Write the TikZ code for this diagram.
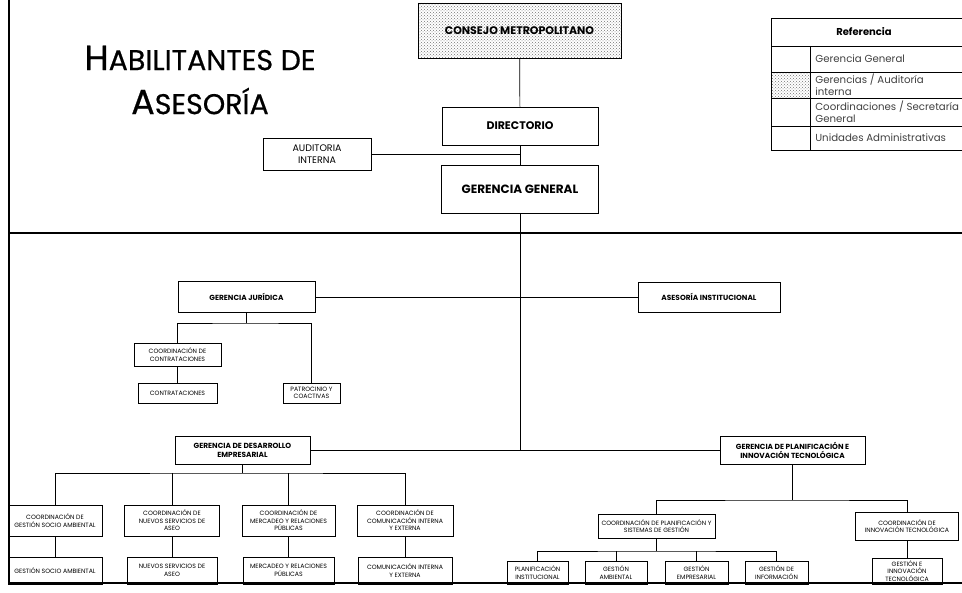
\documentclass[tikz,border=0pt]{standalone}
\usepackage{fontspec}
\setmainfont{Poppins}
\newfontfamily\titlefont[FakeBold=0.6]{Poppins}
\usetikzlibrary{positioning,patterns}

\begin{document}
\begin{tikzpicture}[x=1pt, y=-1pt,
        every node/.style={draw, align=center, inner sep=1pt, line width=0.7pt},
        txt/.style={draw=none, inner sep=0pt},
        topbox/.style={font=\bfseries\fontsize{11}{13}\selectfont},
        gbox/.style={font=\bfseries\fontsize{7.4}{9}\selectfont},
        cbox/.style={font=\fontsize{6.2}{7.6}\selectfont},
        legtext/.style={txt, anchor=west, align=left, font=\fontsize{10.2}{12}\selectfont, text=black!75},
        dotted fill/.style={pattern=crosshatch dots, pattern color=black!55},
        sz/.style 2 args={minimum width=#1pt, minimum height=#2pt},
        link/.style={line width=0.7pt},
        frame/.style={line width=1.2pt}]

  \useasboundingbox (0,0) rectangle (962,593);
  \clip (0,0) rectangle (962,593);

  \draw[frame] (9,0) -- (9,583);
  \draw[frame] (9,233) -- (962,233);
  \draw[frame] (9,583) -- (962,583);

  \node[txt, font=\titlefont\fontsize{35}{40}\selectfont] (title1) at (200,58) {H{\fontsize{28.5}{40}\selectfont ABILITANTES DE}};
  \node[txt, font=\titlefont\fontsize{35}{40}\selectfont] (title2) at (200,101) {A{\fontsize{28.5}{40}\selectfont SESORÍA}};

  \node[topbox, dotted fill, sz={203}{55}] (consejo) at (519.5,30.5) {CONSEJO METROPOLITANO};
  \node[topbox, sz={156}{38}] (directorio) at (520,126) {DIRECTORIO};
  \node[topbox, sz={157}{48}, font=\bfseries\fontsize{12}{14}\selectfont] (gg) at (520,189) {GERENCIA GENERAL};
  \node[sz={108}{32}, font=\fontsize{9.5}{12}\selectfont] (auditoria) at (317,154) {AUDITORIA\\INTERNA};

  \draw[link] (consejo) -- (directorio);
  \draw[link] (directorio) -- (gg);
  \draw[link] (auditoria.east) -- (auditoria.east -| gg.north);

  % referencia
  \fill[dotted fill] (771,72) rectangle (810,98);
  \draw[link] (771,18) rectangle (975,150);
  \foreach \yy in {46,72,98,126}
    \draw[link] (771,\yy) -- (975,\yy);
  \draw[link] (810,46) -- (810,150);
  \node[txt, font=\bfseries\fontsize{10}{12}\selectfont] (refhead) at (864,32) {Referencia};
  \node[legtext] (ref1) at (815,59) {Gerencia General};
  \node[legtext] (ref2) at (815,85) {Gerencias / Auditoría\\interna};
  \node[legtext] (ref3) at (815,112) {Coordinaciones / Secretaría\\General};
  \node[legtext] (ref4) at (815,138) {Unidades Administrativas};

  \node[gbox, sz={137}{31}] (juridica) at (246.5,297) {GERENCIA JURÍDICA};
  \node[gbox, sz={142}{30}] (asesoria) at (709,297) {ASESORÍA INSTITUCIONAL};
  \node[cbox, sz={87}{23}] (coordcontr) at (177.5,354.5) {COORDINACIÓN DE\\CONTRATACIONES};
  \node[cbox, sz={79}{20}] (contrataciones) at (177.5,393) {CONTRATACIONES};
  \node[cbox, sz={57}{20}] (patrocinio) at (311.5,393) {PATROCINIO Y\\COACTIVAS};

  \draw[link] (juridica) -- (asesoria);
  \coordinate (jbus) at (246.5,323);
  \draw[link] (juridica) -- (jbus);
  \draw[link] (coordcontr.north) |- (jbus) -| (patrocinio.north);
  \draw[link] (coordcontr) -- (contrataciones);

  \node[gbox, sz={135}{28}] (desarrollo) at (242.5,450) {GERENCIA DE DESARROLLO\\EMPRESARIAL};
  \node[gbox, sz={145}{28}] (planificacion) at (792.5,450) {GERENCIA DE PLANIFICACIÓN E\\INNOVACIÓN TECNOLÓGICA};

  \draw[link] (gg.south) -- (gg.south |- desarrollo.east);
  \draw[link] (desarrollo) -- (planificacion);

  \node[cbox, sz={94}{31}] (cgsa) at (55,520.5) {COORDINACIÓN DE\\GESTIÓN SOCIO AMBIENTAL};
  \node[cbox, sz={95}{31}] (cnsa) at (172,520.5) {COORDINACIÓN DE\\NUEVOS SERVICIOS DE\\ASEO};
  \node[cbox, sz={93}{31}] (cmrp) at (288.5,520.5) {COORDINACIÓN DE\\MERCADEO Y RELACIONES\\PÚBLICAS};
  \node[cbox, sz={96}{31}] (ccie) at (405,520.5) {COORDINACIÓN DE\\COMUNICACIÓN INTERNA\\Y EXTERNA};
  \node[cbox, sz={94}{27}] (gsa) at (55,570.5) {GESTIÓN SOCIO AMBIENTAL};
  \node[cbox, sz={90}{27}] (nsa) at (172,570.5) {NUEVOS SERVICIOS DE\\ASEO};
  \node[cbox, sz={91}{27}] (mrp) at (288.5,570.5) {MERCADEO Y RELACIONES\\PÚBLICAS};
  \node[cbox, sz={94}{27}] (cie) at (405,570.5) {COMUNICACIÓN INTERNA\\Y EXTERNA};

  \coordinate (dbus) at (242.5,473);
  \draw[link] (desarrollo) -- (dbus);
  \draw[link] (cgsa.north) |- (dbus) -| (ccie.north);
  \foreach \c in {cnsa,cmrp}
    \draw[link] (\c.north) -- (\c.north |- dbus);
  \draw[link] (cgsa) -- (gsa);
  \draw[link] (cnsa) -- (nsa);
  \draw[link] (cmrp) -- (mrp);
  \draw[link] (ccie) -- (cie);

  \node[cbox, sz={117}{24}] (coordplan) at (656.5,526) {COORDINACIÓN DE PLANIFICACIÓN Y\\SISTEMAS DE GESTIÓN};
  \node[cbox, sz={103}{28}] (coordinnov) at (907,526) {COORDINACIÓN DE\\INNOVACIÓN TECNOLÓGICA};
  \node[cbox, sz={61}{23}] (pi) at (537.5,572.5) {PLANIFICACIÓN\\INSTITUCIONAL};
  \node[cbox, sz={62}{23}] (ga) at (616,572.5) {GESTIÓN\\AMBIENTAL};
  \node[cbox, sz={63}{23}] (ge) at (696.5,572.5) {GESTIÓN\\EMPRESARIAL};
  \node[cbox, sz={63}{23}] (gi) at (776.5,572.5) {GESTIÓN DE\\INFORMACIÓN};
  \node[cbox, sz={70}{26}] (gei) at (907,571) {GESTIÓN E\\INNOVACIÓN\\TECNOLÓGICA};

  \coordinate (pbus) at (792.5,500);
  \draw[link] (planificacion) -- (pbus);
  \draw[link] (coordplan.north) |- (pbus) -| (coordinnov.north);
  \coordinate (cpbus) at (656.5,551);
  \draw[link] (coordplan) -- (cpbus);
  \draw[link] (pi.north) |- (cpbus) -| (gi.north);
  \foreach \c in {ga,ge}
    \draw[link] (\c.north) -- (\c.north |- cpbus);
  \draw[link] (coordinnov) -- (gei);
\end{tikzpicture}
\end{document}
